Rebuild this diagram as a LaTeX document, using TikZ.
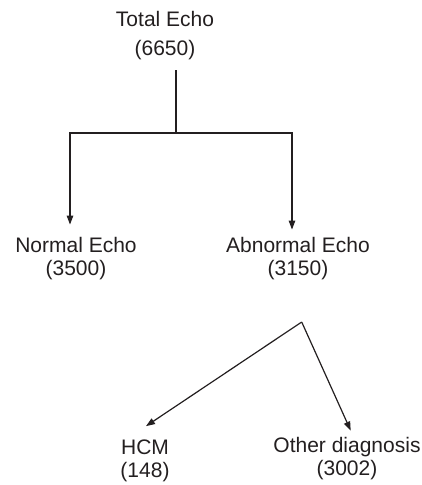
\documentclass[tikz,border=0pt]{standalone}
\usepackage{fontspec}
\setmainfont{Liberation Sans}
\usetikzlibrary{arrows.meta}
\definecolor{ink}{HTML}{231F20}
\tikzset{
  lbl/.style={font=\fontsize{21}{23}\selectfont, align=center, inner sep=0pt, anchor=base, text=ink},
  trunk/.style={draw=ink, line width=2pt},
  conn/.style={draw=ink, line width=1.2pt},
  arr/.style={conn, -{Triangle[length=9pt,width=6.5pt]}},
}
\begin{document}
\begin{tikzpicture}[x=1pt,y=-1pt]
\useasboundingbox (0,0) rectangle (422,485);
\node[lbl] (total) at (165,55) {Total Echo\\[6pt](6650)};
\node[lbl] (normal) at (76,275) {Normal Echo\\(3500)};
\node[lbl] (abnormal) at (298,275) {Abnormal Echo\\(3150)};
\node[lbl] (hcm) at (145,477) {HCM\\(148)};
\node[lbl] (other) at (347,475) {Other diagnosis\\(3002)};
\coordinate (j1) at (176,133);
\coordinate (j2) at (301.7,322);
\draw[trunk] ([yshift=-10.6pt]total.south -| j1) -- (j1);
\draw[arr] (j1) -| ([xshift=-6pt,yshift=12pt]normal.north);
\draw[arr] (j1) -| ([xshift=-6pt,yshift=7pt]abnormal.north);
\draw[arr] (j2) -- ([xshift=1pt,yshift=13pt]hcm.north);
\draw[arr] (j2) -- ([xshift=3.7pt,yshift=6pt]other.north);
\end{tikzpicture}
\end{document}
